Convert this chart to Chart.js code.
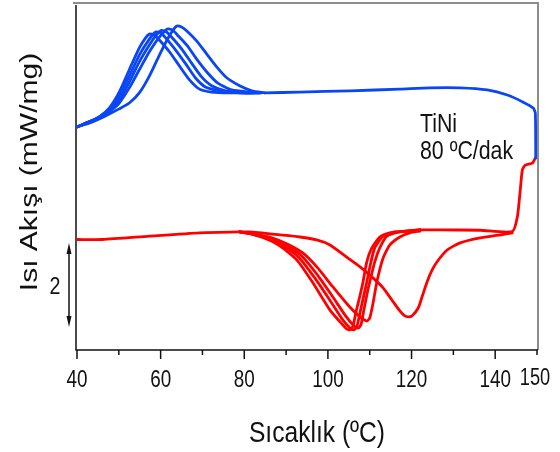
<!DOCTYPE html>
<html lang="tr">
  <head>
    <meta charset="UTF-8" />
    <title>TiNi DSC</title>
    <script src="https://cdn.jsdelivr.net/npm/chart.js"></script>
    <style>
      body { margin: 0; background: #fff; }
    </style>
  </head>
  <body>
    <canvas id="dscChart" width="560" height="452"></canvas>
    <script>
      // sıcaklık (°C), ısı akışı (mW/mg, kaydırılmış) - soğutma eğrileri (mavi)
      const cool1 = [[40,5.31],[42.9,5.43],[45.3,5.55],[47.7,5.76],[50.1,6.14],[52.5,6.67],[54.9,7.19],[56.4,7.43],[57.3,7.52],[58.5,7.50],[59.7,7.38],[62.1,7.10],[64.5,6.76],[66.9,6.43],[69.3,6.21],[72.2,6.14],[76.5,6.12],[83.7,6.12]];
      const cool2 = [[40,5.31],[42.9,5.43],[45.3,5.55],[47.7,5.71],[50.1,6.05],[52.5,6.52],[54.9,7.02],[57.3,7.40],[58.8,7.57],[60.0,7.55],[61.2,7.43],[63.6,7.14],[66.0,6.81],[68.3,6.48],[70.7,6.26],[74.1,6.17],[78.9,6.12],[83.7,6.12]];
      const cool3 = [[40,5.31],[42.9,5.43],[45.3,5.52],[47.7,5.69],[50.1,5.95],[52.5,6.38],[54.9,6.86],[57.3,7.26],[58.8,7.48],[60.2,7.61],[61.4,7.57],[62.6,7.45],[65.0,7.17],[67.4,6.83],[69.8,6.50],[72.2,6.29],[75.5,6.17],[80.1,6.12],[83.7,6.12]];
      const cool4 = [[40,5.31],[42.9,5.43],[45.3,5.52],[47.7,5.67],[50.1,5.88],[52.5,6.24],[54.9,6.67],[57.3,7.10],[59.7,7.45],[61.6,7.64],[62.8,7.62],[64.0,7.50],[66.4,7.24],[68.8,6.90],[71.2,6.60],[73.6,6.36],[77.0,6.19],[81.3,6.14],[84.2,6.12]];
      const cool5 = [[40,5.31],[42.9,5.40],[45.3,5.50],[47.7,5.62],[50.1,5.74],[52.5,5.88],[54.9,6.12],[57.3,6.52],[59.7,7.02],[62.1,7.48],[63.8,7.71],[65.0,7.69],[66.2,7.60],[68.6,7.36],[71.0,7.05],[73.4,6.74],[75.8,6.48],[78.9,6.29],[81.8,6.17],[84.9,6.12]];
      const coolTail = [[84.9,6.12],[93.3,6.14],[105.3,6.17],[117.2,6.21],[124.4,6.24],[131.6,6.24],[138.1,6.19],[142.9,6.07],[146.7,5.90],[149.1,5.76],[149.6,5.64],[149.7,4.57]];

      // ısıtma eğrileri (kırmızı)
      const heatHead = [[40,2.63],[46.1,2.63],[57.3,2.71],[69.3,2.79],[78.9,2.81]];
      const heat1 = [[78.9,2.81],[81.3,2.77],[84.9,2.67],[88.5,2.48],[92.6,2.14],[96.4,1.60],[100.5,0.95],[102.9,0.67],[104.5,0.50],[105.3,0.48],[106.0,0.57],[106.7,0.90],[107.7,1.31],[108.4,1.62],[109.3,2.10],[110.5,2.43],[112.4,2.69],[114.8,2.79],[118.4,2.83],[122.0,2.86]];
      const heat2 = [[78.9,2.81],[81.8,2.76],[85.6,2.64],[89.2,2.48],[93.0,2.21],[96.9,1.71],[100.9,1.12],[103.6,0.71],[105.3,0.52],[106.2,0.48],[106.9,0.55],[107.7,0.90],[108.6,1.31],[109.3,1.62],[110.3,2.10],[111.2,2.43],[113.2,2.71],[116.0,2.81],[119.6,2.83],[122.0,2.86]];
      const heat3 = [[78.9,2.81],[82.2,2.76],[86.1,2.64],[89.9,2.50],[93.5,2.26],[97.3,1.81],[101.2,1.26],[104.1,0.83],[106.0,0.60],[107.2,0.52],[107.9,0.60],[108.6,0.95],[109.3,1.31],[110.0,1.62],[111.2,2.10],[112.4,2.43],[114.1,2.71],[117.2,2.81],[122.0,2.86]];
      const heat4 = [[78.9,2.81],[82.7,2.76],[86.6,2.67],[90.4,2.52],[94.0,2.31],[97.6,1.95],[101.2,1.50],[104.8,1.07],[107.2,0.83],[109.3,0.69],[110.0,0.76],[110.8,1.12],[111.7,1.62],[113.2,2.19],[114.8,2.50],[117.2,2.69],[119.6,2.79],[122.0,2.83]];
      const heat5 = [[78.9,2.81],[81.3,2.81],[88.5,2.74],[93.3,2.69],[97.3,2.62],[100.5,2.50],[104.1,2.24],[107.7,1.98],[110.5,1.74],[113.2,1.48],[115.3,1.19],[117.2,0.93],[118.4,0.81],[119.2,0.79],[120.1,0.81],[121.6,1.00],[122.5,1.26],[123.7,1.62],[124.9,1.90],[126.1,2.10],[128.5,2.38],[131.6,2.55],[136.4,2.67],[141.2,2.74],[144.1,2.79]];
      const heatTail = [[122.0,2.86],[126.8,2.86],[136.4,2.85],[144.1,2.82],[145.3,3.17],[146.0,3.81],[146.5,4.29],[147.2,4.40],[148.9,4.45],[149.6,4.57]];

      const xLabels = [40, 60, 80, 100, 120, 140];
      const xMinor = [50, 70, 90, 110, 130, 150];
      const scaleBar = [0.55, 2.55]; // 2 mW/mg
      const scaleBarLabel = "2";

      const BLUE = "#0a46f5";
      const RED = "#ff0000";
      const SQUISH = 0.82; // yazılar dar
      const FONT = "'Liberation Sans', Arial, sans-serif";

      const toXY = (arr) => arr.map(([x, y]) => ({ x, y }));
      const line = (arr, color) => ({
        data: toXY(arr),
        borderColor: color,
        showLine: true,
        fill: false,
      });

      const datasets = [
        ...[cool1, cool2, cool3, cool4, cool5, coolTail].map((a) => line(a, BLUE)),
        ...[heatHead, heat1, heat2, heat3, heat4, heat5, heatTail].map((a) => line(a, RED)),
      ];

      function narrowText(ctx, str, x, y, font, align, sx) {
        ctx.save();
        ctx.translate(x, y);
        ctx.scale(sx || SQUISH, 1);
        ctx.font = font;
        ctx.textAlign = align || "center";
        ctx.textBaseline = "alphabetic";
        ctx.fillText(str, 0, 0);
        ctx.restore();
      }

      const decorations = {
        id: "decorations",
        afterDraw(chart) {
          const ctx = chart.ctx;
          const a = chart.chartArea;
          const xs = chart.scales.x;
          const ys = chart.scales.y;
          ctx.save();

          // çerçeve: üst ve sağ gri
          ctx.strokeStyle = "#8c8c8c";
          ctx.lineWidth = 2;
          ctx.beginPath();
          ctx.moveTo(a.left - 4, a.top);
          ctx.lineTo(a.right + 1, a.top);
          ctx.lineTo(a.right + 1, a.bottom);
          ctx.stroke();

          // eksenler siyah
          ctx.strokeStyle = "#111";
          ctx.lineWidth = 1.5;
          ctx.beginPath();
          ctx.moveTo(a.left - 1, a.top + 2);
          ctx.lineTo(a.left - 1, a.bottom);
          ctx.lineTo(a.right + 1, a.bottom);
          ctx.stroke();

          // x çentikleri
          xLabels.forEach((v) => {
            const px = xs.getPixelForValue(v);
            ctx.beginPath();
            ctx.moveTo(px, a.bottom);
            ctx.lineTo(px, a.bottom + 9);
            ctx.stroke();
          });
          xMinor.forEach((v) => {
            const px = xs.getPixelForValue(v);
            ctx.beginPath();
            ctx.moveTo(px, a.bottom);
            ctx.lineTo(px, a.bottom + 5);
            ctx.stroke();
          });

          ctx.fillStyle = "#111";
          xLabels.forEach((v) => {
            narrowText(ctx, String(v), xs.getPixelForValue(v), a.bottom + 37, "23px " + FONT);
          });
          narrowText(ctx, "150", xs.getPixelForValue(150) - 2, a.bottom + 35, "24px " + FONT, "center", 0.76);

          // eksen başlıkları
          narrowText(ctx, "Sıcaklık (ºC)", 317, 442, "30px " + FONT);
          ctx.save();
          ctx.translate(30, 172);
          ctx.scale(SQUISH, 1);
          ctx.rotate(-Math.PI / 2);
          ctx.font = "30px " + FONT;
          ctx.textAlign = "center";
          ctx.textBaseline = "middle";
          ctx.fillText("Isı Akışı (mW/mg)", 0, 0);
          ctx.restore();

          // açıklama
          narrowText(ctx, "TiNi", 420, 132, "26px " + FONT, "left");
          narrowText(ctx, "80 ºC/dak", 420, 159, "26px " + FONT, "left");

          // ölçek çubuğu
          const bx = a.left - 8;
          const y0 = ys.getPixelForValue(scaleBar[0]);
          const y1 = ys.getPixelForValue(scaleBar[1]);
          ctx.strokeStyle = "#111";
          ctx.lineWidth = 1.5;
          ctx.beginPath();
          ctx.moveTo(bx, y0 - 4);
          ctx.lineTo(bx, y1 + 4);
          ctx.stroke();
          ctx.beginPath();
          ctx.moveTo(bx, y1);
          ctx.lineTo(bx - 2.5, y1 + 11);
          ctx.lineTo(bx + 2.5, y1 + 11);
          ctx.closePath();
          ctx.moveTo(bx, y0);
          ctx.lineTo(bx - 2.5, y0 - 11);
          ctx.lineTo(bx + 2.5, y0 - 11);
          ctx.closePath();
          ctx.fill();
          narrowText(ctx, scaleBarLabel, 55, (y0 + y1) / 2 + 9, "24px " + FONT);

          ctx.restore();
        },
      };

      new Chart(document.getElementById("dscChart"), {
        type: "scatter",
        data: { datasets },
        options: {
          responsive: false,
          animation: false,
          devicePixelRatio: 1,
          layout: { padding: { left: 77, right: 23, top: 3, bottom: 102 } },
          elements: {
            point: { radius: 0, hoverRadius: 0 },
            line: { borderWidth: 2.8, tension: 0.2, borderJoinStyle: "round", borderCapStyle: "round" },
          },
          scales: {
            x: { type: "linear", min: 40, max: 150, display: false },
            y: { type: "linear", min: 0, max: 8.26, display: false },
          },
          plugins: { legend: { display: false }, tooltip: { enabled: false } },
        },
        plugins: [decorations],
      });
    </script>
  </body>
</html>
